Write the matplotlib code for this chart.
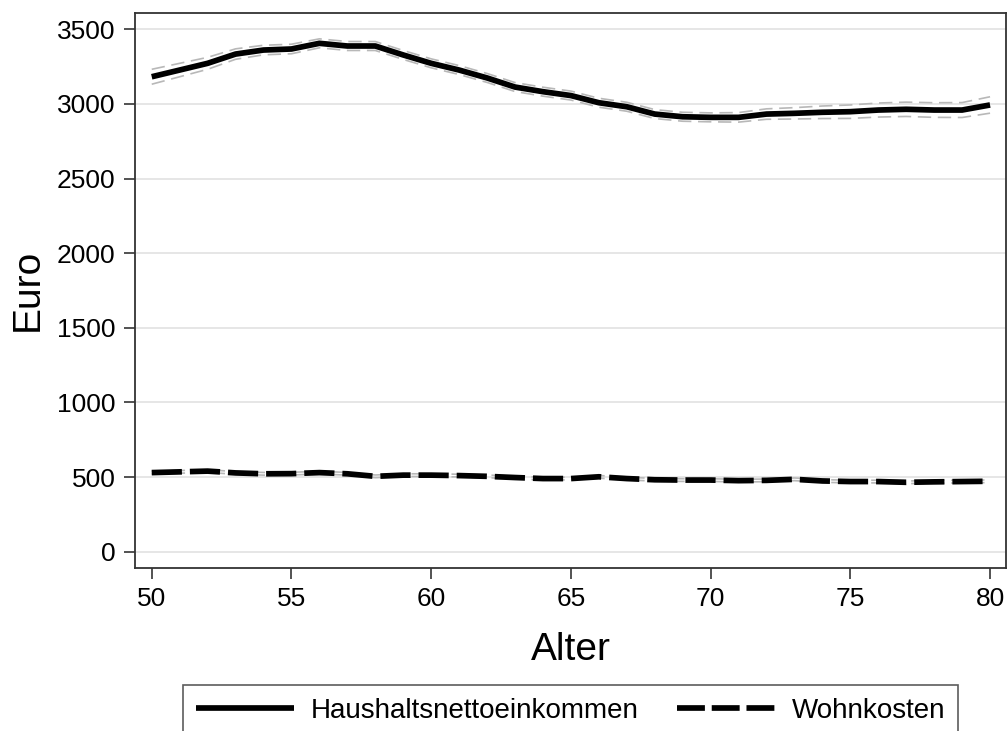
import matplotlib
matplotlib.use("Agg")
import matplotlib.pyplot as plt
from matplotlib.lines import Line2D

plt.rcParams['font.family'] = ['Liberation Sans', 'DejaVu Sans']

alter = list(range(50, 81))
einkommen = [3182, 3227, 3272, 3334, 3361, 3368, 3406, 3388, 3388, 3328,
             3272, 3227, 3174, 3113, 3082, 3056, 3008, 2981, 2932, 2914,
             2910, 2910, 2932, 2937, 2944, 2948, 2959, 2964, 2959, 2959, 2993]
einkommen_hi = [3232, 3272, 3312, 3369, 3393, 3400, 3436, 3418, 3418, 3358,
                3302, 3257, 3204, 3143, 3112, 3086, 3038, 3011, 2962, 2944,
                2940, 2942, 2967, 2975, 2986, 2993, 3006, 3012, 3008, 3009, 3048]
einkommen_lo = [3132, 3182, 3232, 3299, 3329, 3336, 3376, 3358, 3358, 3298,
                3242, 3197, 3144, 3083, 3052, 3026, 2978, 2951, 2902, 2884,
                2880, 2878, 2897, 2899, 2902, 2903, 2912, 2916, 2910, 2909, 2938]
wohnkosten = [530, 535, 540, 528, 522, 523, 530, 522, 505, 513,
              513, 510, 505, 497, 490, 490, 502, 490, 482, 480,
              480, 476, 478, 485, 474, 470, 470, 465, 468, 470, 472]
wohn_hi = [v + 9 for v in wohnkosten]
wohn_lo = [v - 9 for v in wohnkosten]

yticks = [0, 500, 1000, 1500, 2000, 2500, 3000, 3500]
xticks = [50, 55, 60, 65, 70, 75, 80]
labels = ['Haushaltsnettoeinkommen', 'Wohnkosten']

fig = plt.figure(figsize=(10.08, 7.31), dpi=100)
ax = fig.add_axes([0.1339, 0.223, 0.998 - 0.1339, 0.9826 - 0.223])

ax.set_xlim(49.40, 80.57)
ax.set_ylim(-109, 3611)
ax.set_yticks(yticks)
ax.set_xticks(xticks)
ax.grid(axis='y', color='#e4e4e4', linewidth=1.3, zorder=0)
ax.set_axisbelow(True)

ci_style = dict(color='#b8b8b8', linewidth=1.2, linestyle=(0, (8, 4)), zorder=2)
ax.plot(alter, einkommen_hi, **ci_style)
ax.plot(alter, einkommen_lo, **ci_style)
ax.plot(alter, wohn_hi, **ci_style)
ax.plot(alter, wohn_lo, **ci_style)

LW = 4.1
ax.plot(alter, einkommen, color='black', linewidth=LW,
        solid_capstyle='butt', zorder=3)
ax.plot(alter, wohnkosten, color='black', linewidth=LW,
        linestyle=(0, (5.3, 1.4)), dash_capstyle='butt', zorder=3)

for s in ax.spines.values():
    s.set_color('#333333')
    s.set_linewidth(1.3)

ax.tick_params(axis='both', labelsize=19, length=8, width=1.3,
               color='#444444', pad=6)
ax.set_xlabel('Alter', fontsize=28, labelpad=15)
ax.set_ylabel('Euro', fontsize=28, labelpad=8)

h1 = Line2D([], [], color='black', linewidth=LW, solid_capstyle='butt')
h2 = Line2D([], [], color='black', linewidth=LW,
            linestyle=(0, (4.9, 1.2)), dash_capstyle='butt')
leg = fig.legend(handles=[h1, h2], labels=labels, loc='upper center',
                 bbox_to_anchor=(0.566, 0.0629), ncol=2, fontsize=20,
                 frameon=True, fancybox=False, handlelength=3.55,
                 columnspacing=1.4, borderpad=0.45, handletextpad=0.58,
                 borderaxespad=0)
leg.get_frame().set_edgecolor('#333333')
leg.get_frame().set_linewidth(1.2)

fig.savefig('out.png', dpi=100)
